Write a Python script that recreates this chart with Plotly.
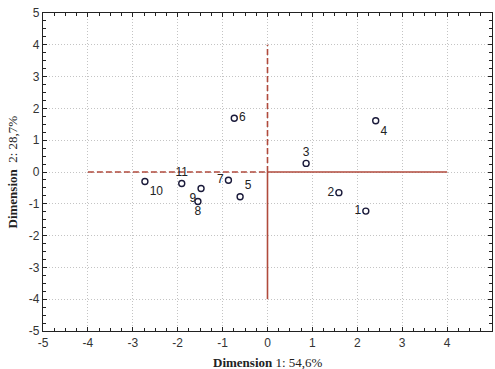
import plotly.graph_objects as go

labels = ["1", "2", "3", "4", "5", "6", "7", "8", "9", "10", "11"]
dim1 = [2.19, 1.59, 0.86, 2.41, -0.61, -0.74, -0.87, -1.55, -1.48, -2.73, -1.91]
dim2 = [-1.23, -0.65, 0.27, 1.61, -0.78, 1.69, -0.26, -0.93, -0.52, -0.30, -0.36]
label_pos = ["middle left", "middle left", "top center", "bottom right", "top right",
             "middle right", "middle left", "bottom center", "bottom left",
             "bottom right", "top center"]
tick_vals = [-5, -4, -3, -2, -1, 0, 1, 2, 3, 4, 5]
tick_text = ["-5", "-4", "-3", "-2", "-1", "0", "1", "2", "3", "4", "5"]

axis_extent = 4
red = "#b04a3c"

fig = go.Figure()

# reference axes lines through origin
fig.add_trace(go.Scatter(x=[-axis_extent, 0], y=[0, 0], mode="lines",
                         line=dict(color=red, width=1.6, dash="6px,3px"), hoverinfo="skip"))
fig.add_trace(go.Scatter(x=[0, axis_extent], y=[0, 0], mode="lines",
                         line=dict(color=red, width=1.6), hoverinfo="skip"))
fig.add_trace(go.Scatter(x=[0, 0], y=[0, axis_extent], mode="lines",
                         line=dict(color=red, width=1.6, dash="6px,3px"), hoverinfo="skip"))
fig.add_trace(go.Scatter(x=[0, 0], y=[-axis_extent, 0], mode="lines",
                         line=dict(color=red, width=1.6), hoverinfo="skip"))

fig.add_trace(go.Scatter(
    x=dim1, y=dim2, mode="markers+text", text=labels, textposition=label_pos,
    marker=dict(symbol="circle-open", size=6, color="#1a1a3a", line=dict(width=1.4)),
    textfont=dict(family="Liberation Sans", size=12, color="#222222"),
    cliponaxis=False,
))

axis_common = dict(
    range=[-5, 5], tickvals=tick_vals, ticktext=tick_text,
    showgrid=True, gridcolor="#c4c4c4", griddash="1px,2px", gridwidth=1,
    zeroline=False, automargin=False,
    showline=True, linecolor="#222222", linewidth=1.2, mirror="ticks",
    ticks="inside", ticklen=4, tickcolor="#222222",
    minor=dict(dtick=0.25, tick0=-5, ticks="inside", ticklen=3, tickcolor="#222222", showgrid=False),
    tickfont=dict(family="Liberation Sans", size=12, color="#333333"),
)

fig.update_xaxes(**axis_common)
fig.update_yaxes(**axis_common)

fig.update_layout(
    width=495, height=369,
    margin=dict(l=43, r=3, t=13, b=38),
    paper_bgcolor="white", plot_bgcolor="white",
    showlegend=False,
    annotations=[
        dict(text="<b>Dimension</b> 1: 54,6%",
             xref="paper", yref="paper", x=0.5, y=0, yshift=-22, showarrow=False,
             yanchor="top", xanchor="center",
             font=dict(family="Liberation Serif", size=13, color="#222222")),
        dict(text="<b>Dimension</b>  2: 28,7%",
             xref="paper", yref="paper", x=0, xshift=-22, y=0.5, textangle=-90,
             showarrow=False, xanchor="right", yanchor="middle",
             font=dict(family="Liberation Serif", size=13, color="#222222")),
    ],
)

fig.write_html("out.html", config={"displayModeBar": False},
               post_script="document.body.style.margin='0';")
